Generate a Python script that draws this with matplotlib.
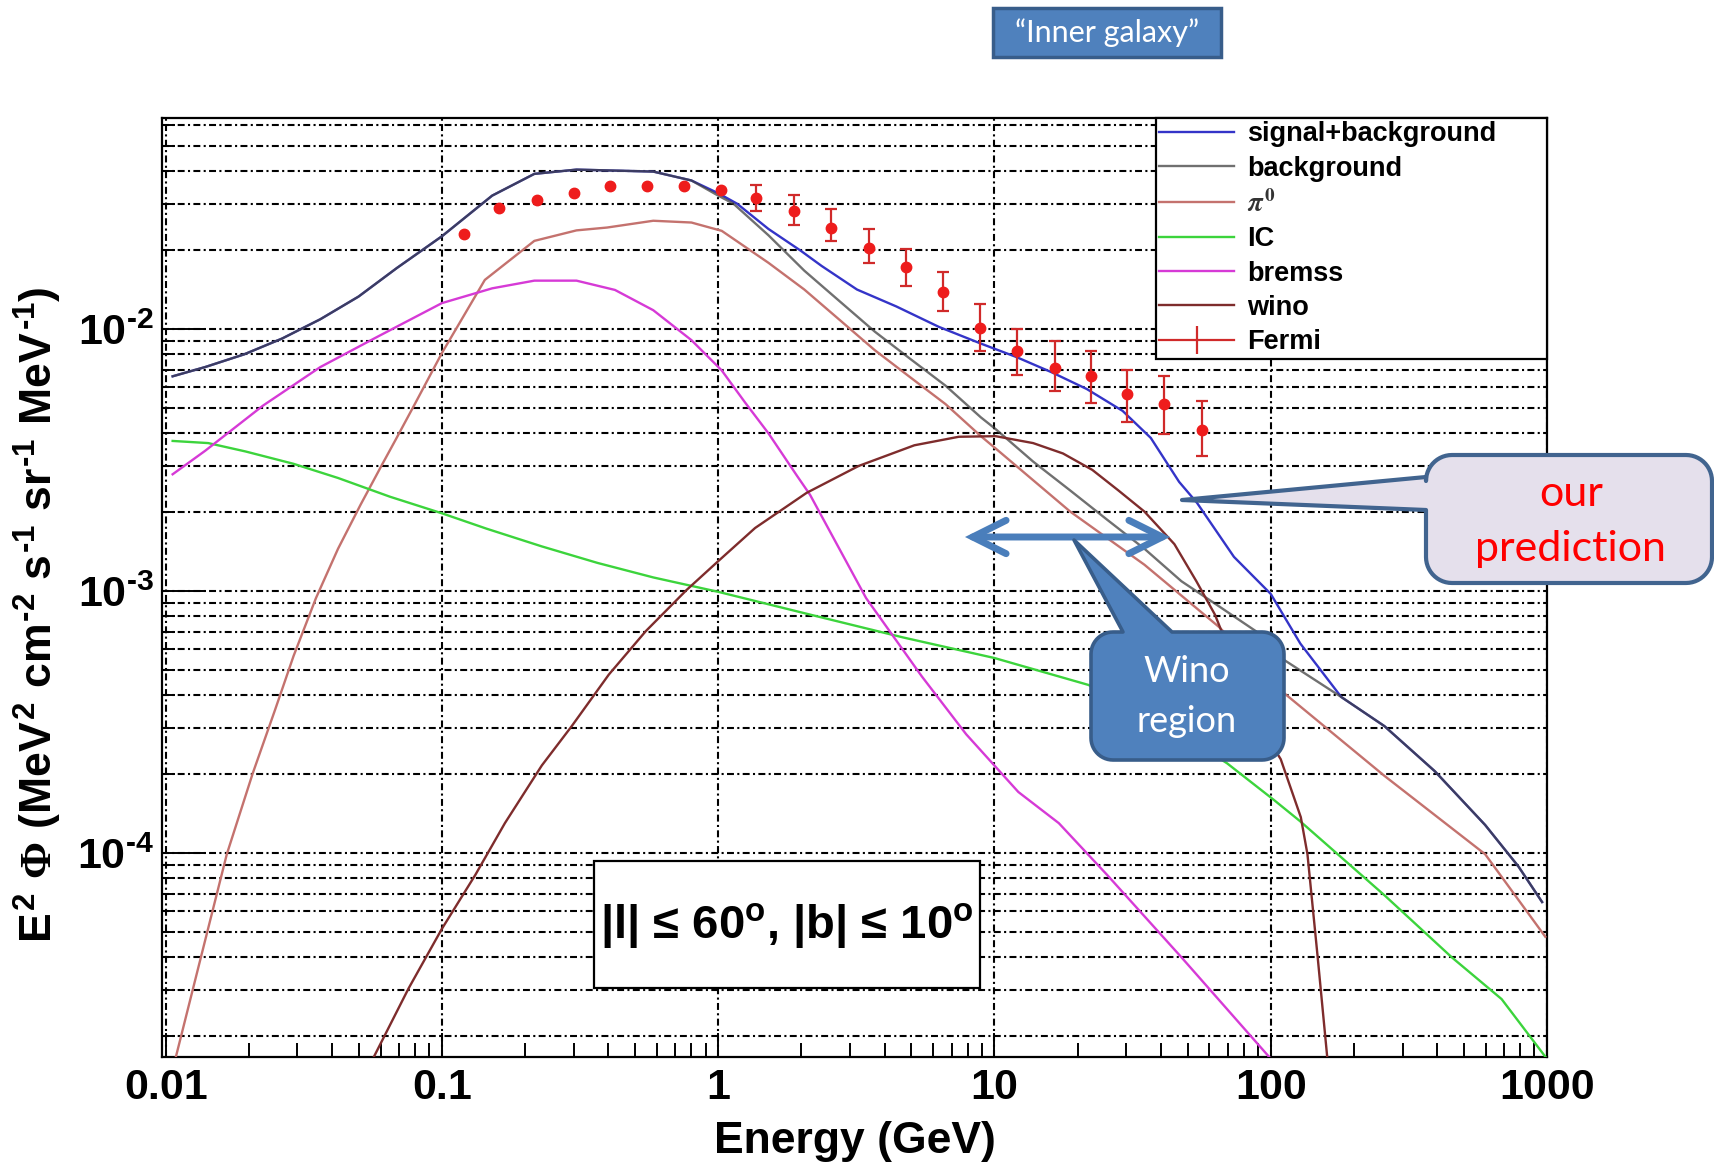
import numpy as np
import matplotlib
matplotlib.use("Agg")
import matplotlib.pyplot as plt
from matplotlib.lines import Line2D
from matplotlib.patches import Polygon, Rectangle, FancyArrowPatch
from matplotlib.ticker import LogLocator, NullFormatter

plt.rcParams["font.family"] = ["Liberation Sans", "DejaVu Sans"]
plt.rcParams["font.weight"] = "bold"
plt.rcParams["mathtext.fontset"] = "custom"
plt.rcParams["mathtext.rm"] = "Liberation Sans:bold"
plt.rcParams["mathtext.it"] = "Liberation Sans:bold"
plt.rcParams["mathtext.bf"] = "Liberation Sans:bold"
plt.rcParams["mathtext.sf"] = "Liberation Serif"
plt.rcParams["lines.scale_dashes"] = False

# ---- spectra, E in GeV, E^2 Phi in MeV^2 cm^-2 s^-1 sr^-1 MeV^-1 ----
sb_E = [0.0106, 0.0139, 0.0192, 0.0264, 0.0363, 0.0499, 0.0687, 0.100, 0.152, 0.216,
        0.307, 0.582, 0.800, 1.00, 1.17, 1.52, 1.99, 2.37, 3.18, 4.41, 6.28, 8.93, 12.0,
        16.1, 21.6, 29.1, 36.8, 46.6, 54.1, 73.6, 100, 128, 180, 258, 393, 597, 789, 960]
sb_F = [6.6e-3, 7.16e-3, 8.0e-3, 9.2e-3, 1.09e-2, 1.33e-2, 1.71e-2, 2.26e-2, 3.23e-2, 3.91e-2,
        4.06e-2, 3.99e-2, 3.69e-2, 3.30e-2, 3.01e-2, 2.41e-2, 1.99e-2, 1.74e-2, 1.415e-2, 1.22e-2,
        1.02e-2, 8.8e-3, 7.82e-3, 6.84e-3, 5.9e-3, 4.87e-3, 3.84e-3, 2.61e-3, 2.17e-3, 1.35e-3,
        9.75e-4, 6.3e-4, 3.94e-4, 3.05e-4, 2.05e-4, 1.28e-4, 8.87e-5, 6.5e-5]

bg_E = [0.0106, 0.0139, 0.0192, 0.0264, 0.0363, 0.0499, 0.0687, 0.100, 0.152, 0.216,
        0.307, 0.582, 0.800, 1.00, 1.135, 1.52, 2.05, 2.75, 3.69, 4.95, 6.65, 8.93, 10.1,
        13.8, 18.8, 25.6, 34.9, 47.5, 64.9, 88.3, 112, 180, 258, 393, 597, 789, 960]
bg_F = [6.6e-3, 7.16e-3, 8.0e-3, 9.2e-3, 1.09e-2, 1.33e-2, 1.71e-2, 2.26e-2, 3.23e-2, 3.91e-2,
        4.06e-2, 3.99e-2, 3.69e-2, 3.23e-2, 3.01e-2, 2.28e-2, 1.67e-2, 1.277e-2, 9.77e-3, 7.7e-3,
        6.08e-3, 4.6e-3, 4.15e-3, 3.12e-3, 2.42e-3, 1.87e-3, 1.45e-3, 1.09e-3, 8.75e-4, 7.03e-4,
        5.45e-4, 3.94e-4, 3.05e-4, 2.05e-4, 1.28e-4, 8.87e-5, 6.5e-5]

pi_E = [0.0108, 0.01343, 0.01665, 0.02065, 0.02489, 0.02904, 0.035, 0.04207, 0.0507, 0.06095,
        0.0679, 0.080, 0.100, 0.143, 0.216, 0.307, 0.396, 0.582, 0.80, 1.03, 1.135, 1.52, 2.05,
        2.75, 3.69, 4.95, 6.65, 8.93, 10.1, 18.8, 34.9, 64.9, 112, 258, 597, 986]
pi_F = [1.61e-5, 4.02e-5, 9.9e-5, 2.01e-4, 3.52e-4, 5.65e-4, 9.4e-4, 1.45e-3, 2.13e-3, 3.06e-3,
        3.77e-3, 5.2e-3, 8.1e-3, 1.54e-2, 2.17e-2, 2.38e-2, 2.44e-2, 2.59e-2, 2.55e-2, 2.37e-2,
        2.21e-2, 1.79e-2, 1.415e-2, 1.084e-2, 8.3e-3, 6.55e-3, 5.17e-3, 3.9e-3, 3.5e-3, 2.01e-3,
        1.26e-3, 7.3e-4, 4.07e-4, 1.97e-4, 9.9e-5, 4.79e-5]

ic_E = [0.0106, 0.01426, 0.01945, 0.029, 0.0421, 0.0649, 0.100, 0.145, 0.230, 0.366, 0.582,
        1.00, 2.15, 4.67, 10.0, 21.9, 47.5, 69.5, 103, 128, 258, 452, 685, 986]
ic_F = [3.74e-3, 3.67e-3, 3.41e-3, 3.06e-3, 2.70e-3, 2.29e-3, 1.98e-3, 1.73e-3, 1.48e-3, 1.28e-3,
        1.127e-3, 9.93e-4, 8.13e-4, 6.65e-4, 5.55e-4, 4.38e-4, 2.84e-4, 2.2e-4, 1.59e-4, 1.32e-4,
        6.9e-5, 4.0e-5, 2.77e-5, 1.67e-5]

br_E = [0.0106, 0.0139, 0.0225, 0.0363, 0.0585, 0.100, 0.152, 0.216, 0.307, 0.423, 0.582,
        0.80, 1.03, 1.25, 1.52, 1.93, 2.15, 3.43, 5.46, 7.9, 12.2, 17.1, 25.6, 47.5, 100]
br_F = [2.79e-3, 3.43e-3, 5.1e-3, 7.16e-3, 9.35e-3, 1.256e-2, 1.43e-2, 1.53e-2, 1.53e-2, 1.41e-2,
        1.18e-2, 9.07e-3, 6.95e-3, 5.25e-3, 4.0e-3, 2.75e-3, 2.33e-3, 9.4e-4, 4.72e-4, 2.84e-4,
        1.71e-4, 1.3e-4, 8.24e-5, 4.0e-5, 1.64e-5]

wi_E = [0.0556, 0.0757, 0.100, 0.132, 0.169, 0.230, 0.295, 0.402, 0.547, 0.769, 1.00, 1.36,
        2.09, 3.22, 5.13, 7.43, 10.1, 13.8, 17.7, 22.6, 28.1, 34.9, 44.8, 53.8, 62.8, 71.1,
        84.5, 108.7, 128.5, 135.8, 147.9, 160.7]
wi_F = [1.6e-5, 3.04e-5, 5.14e-5, 8.24e-5, 1.3e-4, 2.16e-4, 3.05e-4, 4.8e-4, 7.03e-4, 1.01e-3,
        1.30e-3, 1.74e-3, 2.37e-3, 3.0e-3, 3.6e-3, 3.88e-3, 3.9e-3, 3.67e-3, 3.35e-3, 2.9e-3,
        2.42e-3, 2.01e-3, 1.51e-3, 1.09e-3, 8.13e-4, 5.86e-4, 3.52e-4, 2.28e-4, 1.37e-4, 9.9e-5,
        4.0e-5, 1.6e-5]

fermi_E = [0.120, 0.161, 0.220, 0.300, 0.407, 0.554, 0.750, 1.02, 1.375, 1.88, 2.57, 3.51,
           4.78, 6.52, 8.89, 12.1, 16.5, 22.4, 30.2, 41.2, 56.5]
fermi_F = [0.0231, 0.0290, 0.0312, 0.0332, 0.0351, 0.0352, 0.0351, 0.0340, 0.0315, 0.0282,
           0.0243, 0.0204, 0.0172, 0.01387, 0.0101, 0.00822, 0.00711, 0.0066, 0.00564, 0.00519,
           0.00413]
fermi_hi = [0.0236, 0.0296, 0.0318, 0.0339, 0.0358, 0.0359, 0.0358, 0.0350, 0.0355, 0.0325,
            0.0286, 0.0240, 0.0202, 0.01652, 0.01245, 0.0100, 0.00899, 0.00822, 0.00700, 0.00664,
            0.00529]
fermi_lo = [0.0226, 0.0284, 0.0306, 0.0325, 0.0344, 0.0345, 0.0344, 0.0330, 0.0282, 0.0249,
            0.0216, 0.0179, 0.0146, 0.01175, 0.00824, 0.00668, 0.00578, 0.00524, 0.00443, 0.00398,
            0.00329]

xtick_vals = [0.01, 0.1, 1, 10, 100, 1000]
xtick_labels = ["0.01", "0.1", "1", "10", "100", "1000"]
ytick_vals = [1e-4, 1e-3, 1e-2]
ytick_labels = ["$10^{\u20104}$", "$10^{\u20103}$", "$10^{\u20102}$"]

W, H = 1715, 1167
fig = plt.figure(figsize=(W / 100, H / 100), dpi=100)
fig.patch.set_facecolor("white")
ax = fig.add_axes([162 / W, 1 - 1057 / H, 1385 / W, 939 / H])
ax.set_xscale("log")
ax.set_yscale("log")
ax.set_xlim(0.0097, 1000)
ax.set_ylim(1.665e-5, 0.0639)

grid_kw = dict(color="black", lw=1.5, linestyle=(0, (5.0, 2.4, 1.5, 2.4)))
ax.yaxis.set_minor_locator(LogLocator(base=10, subs=np.arange(2, 10), numticks=20))
ax.xaxis.set_minor_locator(LogLocator(base=10, subs=np.arange(2, 10), numticks=20))
ax.xaxis.set_minor_formatter(NullFormatter())
ax.yaxis.set_minor_formatter(NullFormatter())
ax.set_xticks(xtick_vals, xtick_labels)
ax.set_yticks(ytick_vals, ytick_labels)
ax.grid(True, which="major", axis="x", **grid_kw)
ax.grid(True, which="both", axis="y", **grid_kw)
ax.set_axisbelow(True)

ax.tick_params(axis="x", which="major", direction="in", length=17, width=1.4, labelsize=31, pad=8)
ax.tick_params(axis="x", which="minor", direction="in", length=10, width=1.4)
ax.tick_params(axis="y", which="major", direction="in", length=32, width=1.4, labelsize=31, pad=6)
ax.tick_params(axis="y", which="minor", direction="in", length=9, width=1.4)
for sp in ax.spines.values():
    sp.set_linewidth(1.6)

# model curves
l_sb, = ax.plot(sb_E, sb_F, color="#3434c8", lw=1.7, label="signal+background", zorder=3)
l_bg, = ax.plot(bg_E, bg_F, color="#404040", lw=1.7, alpha=0.75, label="background", zorder=3)
l_pi, = ax.plot(pi_E, pi_F, color="#c4726e", lw=1.7, label=r"$\pi^{0}$", zorder=3)
l_ic, = ax.plot(ic_E, ic_F, color="#3cd43c", lw=1.7, label="IC", zorder=3)
l_br, = ax.plot(br_E, br_F, color="#d63ad6", lw=1.7, label="bremss", zorder=3)
l_wi, = ax.plot(wi_E, wi_F, color="#7e2c2c", lw=1.7, label="wino", zorder=3)

# Fermi data with asymmetric errors; the low-energy bars hide behind the markers
F = np.array(fermi_F)
err = np.vstack([F - np.array(fermi_lo), np.array(fermi_hi) - F])
big = (err[1] / F) > 0.05
E = np.array(fermi_E)
pt_kw = dict(fmt="o", ms=7.5, mfc="#ee1c1c", mec="#ee1c1c", ecolor="#d02a2a",
             elinewidth=1.6, capthick=1.6, zorder=4)
ax.errorbar(E[~big], F[~big], yerr=err[:, ~big], capsize=0, **pt_kw)
ax.errorbar(E[big], F[big], yerr=err[:, big], capsize=4, **pt_kw)
h_fermi = Line2D([], [], color="#d02a2a", lw=1.6, marker="|", ms=20, mew=1.6)

leg = ax.legend([l_sb, l_bg, l_pi, l_ic, l_br, l_wi, h_fermi],
                ["signal+background", "background", r"$\pi^{0}$", "IC", "bremss", "wino", "Fermi"],
                loc="upper left", bbox_to_anchor=(0.7177, 0.0, 0.2823, 1.0), mode="expand",
                borderaxespad=0, borderpad=0.12, handlelength=2.75, handletextpad=0.5,
                labelspacing=0.31, fancybox=False, framealpha=1, edgecolor="black",
                prop=dict(size=19.5, weight="bold"))
leg.get_frame().set_linewidth(1.6)
leg.set_zorder(6)
pi_txt = leg.get_texts()[2]
pi_txt.set_math_fontfamily("stix")
pi_txt.set_color("#333333")

ax.set_xlabel("Energy (GeV)", fontsize=32, fontweight="bold")
ax.xaxis.set_label_coords(0.5, -0.068)
ax.set_ylabel("$E^{2}\\ \\mathsf{\\Phi}\\ (MeV^{2}\\ cm^{\u20102}\\ s^{\u20101}\\ sr^{\u20101}\\ MeV^{\u20101})$",
              fontsize=32)
ax.yaxis.set_label_coords(-0.0708, 0.4707)

# ---- annotations drawn in pixel space (y down) ----
ov = fig.add_axes([0, 0, 1, 1], zorder=5)
ov.set_xlim(0, W)
ov.set_ylim(H, 0)
ov.axis("off")


def callout_outline(x0, y0, x1, y1, r, tail=None):
    """Rounded box outline with an optional pointer on its top or left side."""
    def arc(cx, cy, a0, a1):
        t = np.radians(np.linspace(a0, a1, 14))
        return list(zip(cx + r * np.cos(t), cy + r * np.sin(t)))

    side = tail[0] if tail else None
    pts = arc(x0 + r, y0 + r, 180, 270)
    if side == "top":
        _, a, b, tip = tail
        pts += [(a, y0), tip, (b, y0)]
    pts += arc(x1 - r, y0 + r, 270, 360)
    pts += arc(x1 - r, y1 - r, 0, 90)
    pts += arc(x0 + r, y1 - r, 90, 180)
    if side == "left":
        _, a, b, tip = tail
        pts += [(x0, b), tip, (x0, a)]
    return pts


# region label box
ov.add_patch(Rectangle((594, 861), 386, 127, fc="white", ec="black", lw=1.6))
ov.text(787, 926, "|l| \u2264 $60^{o}$, |b| \u2264 $10^{o}$",
        ha="center", va="center", fontsize=34, fontweight="bold")

# title tag
ov.add_patch(Rectangle((993, 8), 228, 49, fc="#4f81bd", ec="#385d8a", lw=2.5))
ov.text(1107, 33, "\u201cInner galaxy\u201d", ha="center", va="center", color="white",
        fontsize=22, family="Lato", fontweight="normal")

# wino energy range
ov.add_patch(FancyArrowPatch((965, 537), (1170, 537),
                             arrowstyle="<->,head_length=2.4,head_width=1.2",
                             mutation_scale=10, color="#4a7ebb", lw=5,
                             shrinkA=0, shrinkB=0, capstyle="round", joinstyle="miter"))

ov.add_patch(Polygon(callout_outline(1091, 632, 1284, 760, 22,
                                     ("top", 1123, 1172, (1074, 540))),
                     closed=True, fc="#4f81bd", ec="#385d8a", lw=2.6, joinstyle="round"))
ov.text(1187, 672, "Wino", ha="center", va="center", color="white", fontsize=26,
        family="Lato", fontweight="normal")
ov.text(1187, 722, "region", ha="center", va="center", color="white", fontsize=26,
        family="Lato", fontweight="normal")

ov.add_patch(Polygon(callout_outline(1426, 455, 1712, 583, 26,
                                     ("left", 477, 510, (1182, 500))),
                     closed=True, fc="#e5e0ec", ec="#41648f", lw=3.0, joinstyle="round"))
ov.text(1571, 494, "our", ha="center", va="center", color="#ff0000", fontsize=31,
        family="Lato", fontweight="normal")
ov.text(1571, 549, "prediction", ha="center", va="center", color="#ff0000", fontsize=31,
        family="Lato", fontweight="normal")

fig.savefig("out.png", dpi=100)
